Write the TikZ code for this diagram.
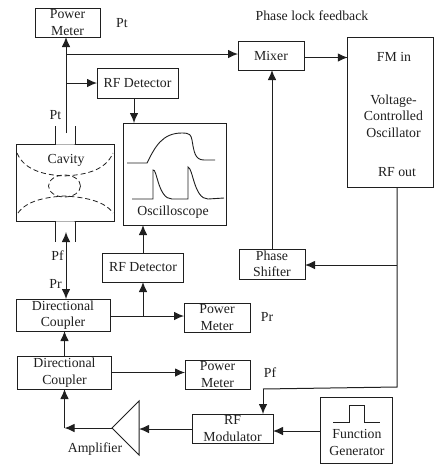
\documentclass[tikz,border=0pt]{standalone}
\usepackage{fontspec}
\setmainfont{Liberation Serif}
\usetikzlibrary{arrows.meta,calc}
\tikzset{
  boxnode/.style={draw=inkc,line width=1pt,inner sep=0pt,outer sep=0pt,align=center,minimum width=#1},
  lab/.style={inner sep=0pt,outer sep=0pt,align=center,text=inkc},
  wire/.style={draw=inkc,line width=1pt},
  arrowwire/.style={wire,-{Latex[length=10pt,width=8.5pt]}},
  dbl/.style={wire,{Latex[length=10pt,width=8.5pt]}-{Latex[length=10pt,width=8.5pt]}},
  dashcurve/.style={draw=inkc,line width=0.8pt,dash pattern=on 5pt off 3pt},
  trace/.style={draw=inkc,line width=0.9pt,rounded corners=0pt}
}
\definecolor{inkc}{gray}{0.12}
\begin{document}
\begin{tikzpicture}[x=1pt,y=-1pt,every node/.style={font=\fontsize{13.8}{16.5}\selectfont,text=inkc}]
\useasboundingbox (0,0) rectangle (434,464);
% boxes
\node[boxnode=65pt,minimum height=29pt] (pmt) at (67.5,22.5) {Power\\Meter};
\node[boxnode=81pt,minimum height=30pt] (det1) at (137.5,83) {RF Detector};
\node[boxnode=66pt,minimum height=29pt] (mixer) at (271,55.5) {Mixer};
\node[boxnode=85.5pt,minimum height=150pt] (vco) at (390.5,112) {};
\node[boxnode=103pt,minimum height=102pt] (osc) at (174.5,174) {};
\node[boxnode=98pt,minimum height=77pt] (cavity) at (65,182.5) {};
\node[boxnode=80.5pt,minimum height=29pt] (det2) at (143,267.5) {RF Detector};
\node[boxnode=66pt,minimum height=30pt] (shift) at (272,264) {Phase\\Shifter};
\node[boxnode=94pt,minimum height=32pt] (dc1) at (63,315) {Directional\\Coupler};
\node[boxnode=94.5pt,minimum height=33pt] (dc2) at (64.5,372.5) {Directional\\Coupler};
\node[boxnode=66pt,minimum height=29pt] (pmr) at (217,317.5) {Power\\Meter};
\node[boxnode=65pt,minimum height=29pt] (pmf) at (217.5,374.5) {Power\\Meter};
\node[boxnode=81pt,minimum height=29pt] (mod) at (232.5,428.5) {RF\\Modulator};
\node[boxnode=72pt,minimum height=66pt] (fgen) at (356,430) {};
% labels
\node[lab] (t1) at (122,23) {Pt};
\node[lab] (t2) at (312,16) {Phase lock feedback};
\node[lab] (t3) at (55.5,115) {Pt};
\node[lab] (t4) at (66,160) {Cavity};
\node[lab] (t5) at (173,212) {Oscilloscope};
\node[lab] (t6) at (394,57) {FM in};
\node[lab] (t7) at (393.5,116) {Voltage-\\Controlled\\Oscillator};
\node[lab] (t8) at (397,172.5) {RF out};
\node[lab] (t9) at (57.5,256) {Pf};
\node[lab] (t10) at (55.5,284) {Pr};
\node[lab] (t11) at (267,317) {Pr};
\node[lab] (t12) at (270,373) {Pf};
\node[lab] (t13) at (95,449) {Amplifier};
\node[lab] (t14) at (357,442.5) {Function\\Generator};
% free points
\coordinate (ptout) at (66,133);
\coordinate (jfb) at (66,54);
\coordinate (jdet) at (66,83);
\coordinate (pfport) at (66,232);
\coordinate (jdc) at (143,316);
\coordinate (jvco) at (397,265);
\coordinate (vcoout) at (397,187);
\coordinate (vcob) at (397,387);
\coordinate (modt) at (263,389);
\coordinate (ampin) at (139,429);
\coordinate (ampa) at (139,401);
\coordinate (ampb) at (139,455);
\coordinate (ampout) at (112,428);
\coordinate (ampc) at (64.5,428);
% cavity ports
\draw[wire] (55.5,126) -- (55.5,144) (75,126) -- (75,144) (55.5,221) -- (55.5,242) (75,221) -- (75,242);
\fill[white] (56,143.3) rectangle (74.5,144.7) (56,220.3) rectangle (74.5,221.7);
% cavity field
\draw[dashcurve] (17,153) .. controls (25,172) and (48,175) .. (64,176) .. controls (82,175) and (105,172) .. (113,153);
\draw[dashcurve] (18,213) .. controls (27,200) and (48,197) .. (64,196) .. controls (82,197) and (104,200) .. (113,213);
\draw[dashcurve] (64.5,186) ellipse [x radius=16,y radius=11];
% oscilloscope traces
\draw[trace] (127,163) -- (147,163) .. controls (155,147) and (162,133) .. (182,133) .. controls (190,133) and (191,135) .. (192,140) .. controls (194,152) and (195,160) .. (204,160) -- (215,160);
\draw[trace] (132,199) -- (153,199) -- (153,170) .. controls (157,168) and (158,199) .. (172,199) -- (188,199) -- (188,167) .. controls (193,168) and (194,199) .. (208,199) -- (224,198);
% pulse
\draw[trace] (333,422) -- (349,422) -- (349,405) -- (364,405) -- (364,422) -- (380,422);
% amplifier
\draw[wire,line join=miter] (ampout) -- (ampa) -- (ampb) -- cycle;
% connectors
\draw[arrowwire] (ptout) -- (pmt.south -| ptout);
\draw[arrowwire] (jfb) -- (mixer.west |- jfb);
\draw[arrowwire] (jdet) -- (det1.west |- jdet);
\draw[arrowwire] (det1.south -| 134,0) -- (osc.north -| 134,0);
\draw[arrowwire] (mixer.east |- 0,57.5) -- (vco.west |- 0,57.5);
\draw[arrowwire] (shift.north) -- (mixer.south -| shift.north);
\draw[dbl] (pfport) -- (dc1.north -| pfport);
\draw[arrowwire] (det2.north) -- (osc.south -| det2.north);
\draw[arrowwire] (jdc) -- (det2.south);
\draw[arrowwire] (dc1.east |- jdc) -- (pmr.west |- jdc);
\draw[arrowwire] (dc2.east |- 0,372.5) -- (pmf.west |- 0,372.5);
\draw[arrowwire] (dc2.north) -- (dc1.south -| dc2.north);
\draw[arrowwire] (ampc) -- (dc2.south);
\draw[arrowwire] (ampout) -- (ampc);
\draw[arrowwire] (mod.west |- ampin) -- (ampin);
\draw[arrowwire] (fgen.west |- 0,431) -- (mod.east |- 0,431);
\draw[wire] (vcoout) -- (vcob) -- (modt);
\draw[arrowwire] (modt) -- (mod.north -| modt);
\draw[arrowwire] (jvco) -- (shift.east |- jvco);
\end{tikzpicture}
\end{document}
